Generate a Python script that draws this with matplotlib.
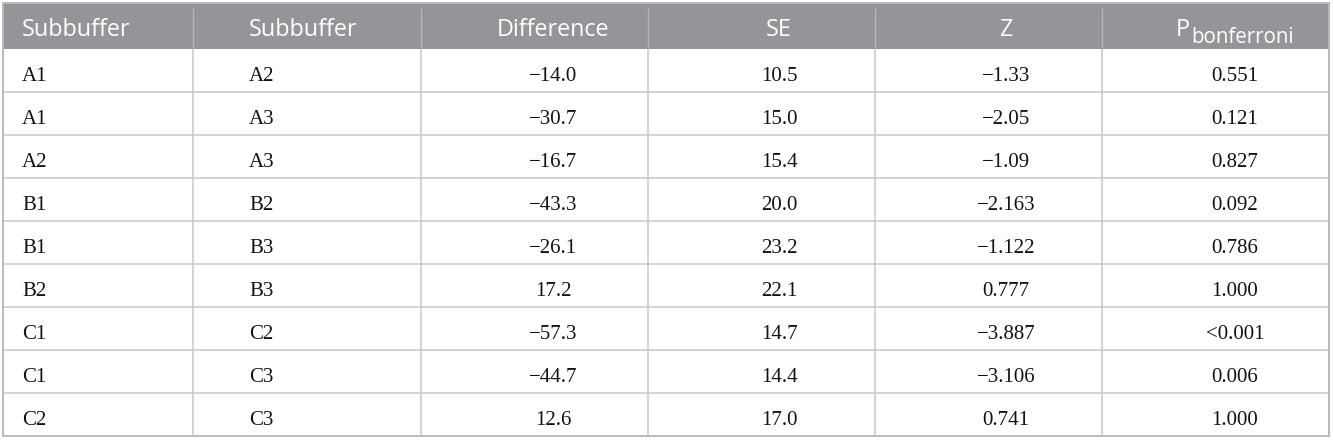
import matplotlib
matplotlib.use("Agg")
import matplotlib.pyplot as plt
from matplotlib.patches import Rectangle

# ---- data ----
headers = ["Subbuffer", "Subbuffer", "Difference", "SE", "Z", "P"]
p_subscript = "bonferroni"
subbuffer_1 = ["A1", "A1", "A2", "B1", "B1", "B2", "C1", "C1", "C2"]
subbuffer_2 = ["A2", "A3", "A3", "B2", "B3", "B3", "C2", "C3", "C3"]
difference = [-14.0, -30.7, -16.7, -43.3, -26.1, 17.2, -57.3, -44.7, 12.6]
se = [10.5, 15.0, 15.4, 20.0, 23.2, 22.1, 14.7, 14.4, 17.0]
z = [-1.33, -2.05, -1.09, -2.163, -1.122, 0.777, -3.887, -3.106, 0.741]
p_bonf = ["0.551", "0.121", "0.827", "0.092", "0.786", "1.000", "<0.001", "0.006", "1.000"]

def fmt(v, spec):
    return format(v, spec).replace("-", "\u2212")

rows = []
for i in range(len(subbuffer_1)):
    rows.append([subbuffer_1[i], subbuffer_2[i], fmt(difference[i], ".1f"),
                 fmt(se[i], ".1f"), fmt(z[i], "g"), p_bonf[i]])

# ---- layout ----
W, H = 1333, 440
col_edges = [3, 193, 421, 648, 875, 1102, 1329]
text_x = [22, 249, 553, 779, 1006, 1235]
text_ha = ["left", "left", "center", "center", "center", "center"]
top, header_bottom, row_h = 3, 49, 43

HEADER_BG = "#939598"
HEADER_SEP = "#b3b5b7"
GRID = "#c6c8c8"
BORDER = "#b4bcba"
head_font = ["Open Sans", "DejaVu Sans"]
body_font = ["Liberation Serif", "DejaVu Serif"]
HEAD_SIZE = 16.8
BODY_SIZE = 15

fig = plt.figure(figsize=(W / 100, H / 100), dpi=100)
ax = fig.add_axes([0, 0, 1, 1])
ax.set_xlim(0, W)
ax.set_ylim(H, 0)
ax.axis("off")

n = len(rows)
bottom = header_bottom + n * row_h

# header background
ax.add_patch(Rectangle((col_edges[0], top), col_edges[-1] - col_edges[0],
                       header_bottom - top, facecolor=HEADER_BG, edgecolor="none", zorder=1))
# header separators
for x in col_edges[1:-1]:
    ax.plot([x, x], [top + 5, header_bottom], color=HEADER_SEP, lw=1.0, zorder=2,
            solid_capstyle="butt")
# body vertical lines
for x in col_edges[1:-1]:
    ax.plot([x, x], [header_bottom, bottom], color=GRID, lw=1.1, zorder=2,
            solid_capstyle="butt")
# horizontal lines
for r in range(1, n):
    y = header_bottom + r * row_h
    ax.plot([col_edges[0], col_edges[-1]], [y, y], color=GRID, lw=1.1, zorder=2,
            solid_capstyle="butt")
# outer border
ax.add_patch(Rectangle((col_edges[0], top), col_edges[-1] - col_edges[0],
                       bottom - top, facecolor="none", edgecolor=BORDER, lw=1.4, zorder=3))

# header text
for j, h in enumerate(headers):
    if j == len(headers) - 1:
        t1 = ax.text(0, 36, h, color="white", fontsize=HEAD_SIZE, family=head_font,
                     ha="left", va="baseline", zorder=4)
        t2 = ax.text(0, 43, p_subscript, color="white", fontsize=HEAD_SIZE * 0.88,
                     family=head_font, ha="left", va="baseline", zorder=4)
        fig.canvas.draw()
        r = fig.canvas.get_renderer()
        w1 = t1.get_window_extent(r).width
        w2 = t2.get_window_extent(r).width
        x0 = text_x[j] - (w1 + w2 + 1) / 2
        t1.set_x(x0)
        t2.set_x(x0 + w1 + 1)
    else:
        ax.text(text_x[j], 36, h, color="white", fontsize=HEAD_SIZE, family=head_font,
                ha=text_ha[j], va="baseline", zorder=4)

# body text
for i, row in enumerate(rows):
    yb = header_bottom + i * row_h + 32
    for j, val in enumerate(row):
        ax.text(text_x[j], yb, val, color="#111111", fontsize=BODY_SIZE, family=body_font,
                ha=text_ha[j], va="baseline", zorder=4)

fig.savefig("out.png", dpi=100, facecolor="white")
